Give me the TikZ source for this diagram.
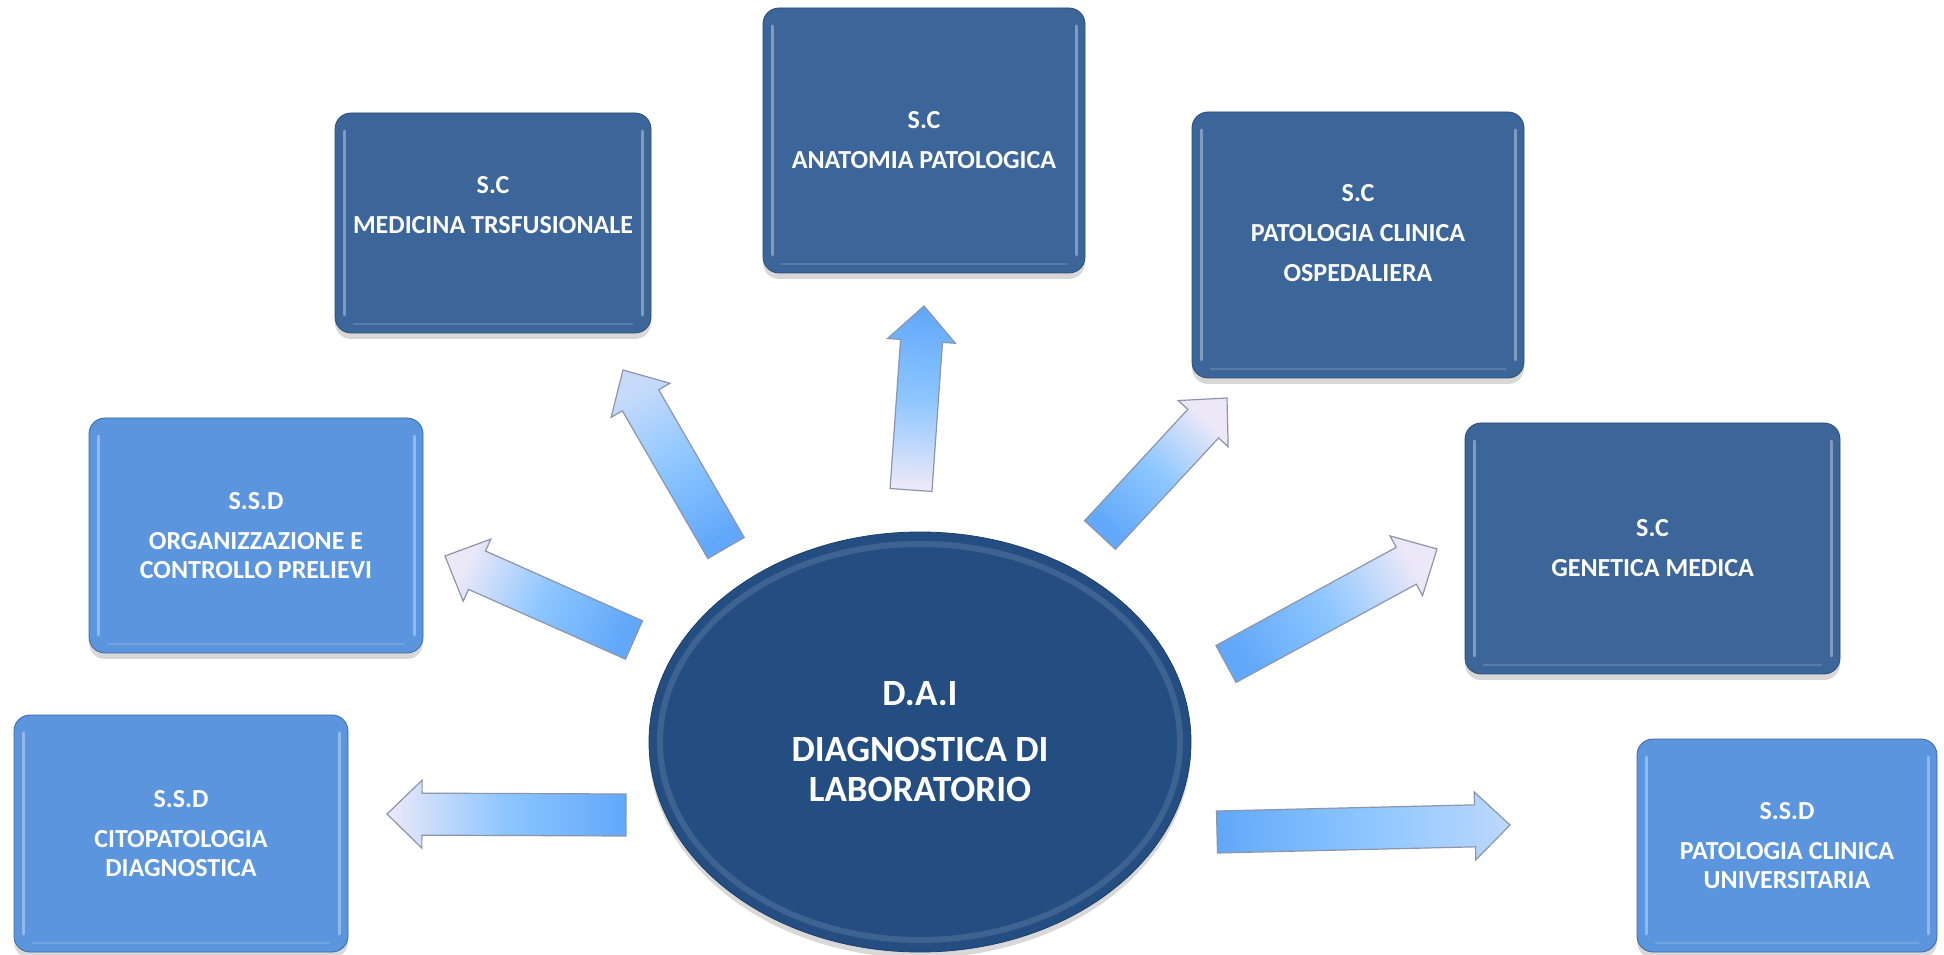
\documentclass[tikz,border=0pt]{standalone}
\usepackage{fontspec}
\setmainfont{Carlito}
\usepackage{tikz}
\usetikzlibrary{calc,shadows,shapes.geometric}

\definecolor{scblue}{RGB}{60,102,153}
\definecolor{ssdblue}{RGB}{90,149,221}
\definecolor{daiblue}{RGB}{36,78,130}
\definecolor{arrowtail}{RGB}{98,168,250}
\definecolor{arrowmid}{RGB}{140,198,255}
\definecolor{arrowtip}{RGB}{236,232,248}
\definecolor{arrowedge}{RGB}{140,150,170}

\tikzstyle{unit}=[rectangle,rounded corners=8pt,text=white,align=center,font=\bfseries\fontsize{13}{14.5}\selectfont,drop shadow={shadow xshift=0pt,shadow yshift=-3pt,opacity=0.3},path picture={
	\draw[white,opacity=0.35,line width=1.5pt,line cap=round] ([shift={(4.5pt,-9pt)}]path picture bounding box.north west) -- ([shift={(4.5pt,9pt)}]path picture bounding box.south west);
	\draw[white,opacity=0.35,line width=1.5pt,line cap=round] ([shift={(-4.5pt,-9pt)}]path picture bounding box.north east) -- ([shift={(-4.5pt,9pt)}]path picture bounding box.south east);
	\draw[white,opacity=0.15,line width=1pt] ([shift={(9pt,4.5pt)}]path picture bounding box.south west) -- ([shift={(-9pt,4.5pt)}]path picture bounding box.south east);}]
\tikzstyle{sc}=[unit,fill=scblue,draw=scblue!75!black]
\tikzstyle{ssd}=[unit,fill=ssdblue,draw=ssdblue!70!black]
\tikzstyle{dept}=[ellipse,inner sep=0pt,fill=daiblue,draw=daiblue!80!black,text=white,align=center,font=\bfseries\fontsize{18.5}{20}\selectfont,minimum width=271pt,minimum height=210pt,drop shadow={shadow xshift=0pt,shadow yshift=-3pt,opacity=0.3},path picture={\draw[white,opacity=0.12,line width=3pt] (path picture bounding box.center) ellipse [x radius=130pt,y radius=99pt];}]

\newcommand{\blockarrow}[4]{%
	\coordinate (#1-base) at ($(#2)!17.5pt!(#1)$);
	\path let \p1=($(#2)-(#1)$), \n1={atan2(\y1,\x1)-90} in
		[draw=arrowedge,line width=0.6pt,top color=#4,bottom color=#3,middle color=arrowmid,shading angle=\n1]
		($(#1)!10.5pt!90:(#2)$) -- ($(#1-base)!10.5pt!90:(#2)$) -- ($(#1-base)!17pt!90:(#2)$) -- (#2)
		-- ($(#1-base)!17pt!-90:(#2)$) -- ($(#1-base)!10.5pt!-90:(#2)$) -- ($(#1)!10.5pt!-90:(#2)$) -- cycle;
}

\begin{document}
\begin{tikzpicture}[x=0.5pt,y=0.5pt]
		\path[use as bounding box,fill=white] (0,0) rectangle (1944,954);

		\node[dept] (dai) at (920,212) {D.A.I\\[8pt]DIAGNOSTICA DI\\LABORATORIO};

		\node[sc,minimum width=158pt,minimum height=110pt] (medbox) at (493,731) {S.C\\[5.5pt]MEDICINA TRSFUSIONALE\\[3.5pt]\mbox{}};
		\node[sc,minimum width=161pt,minimum height=132.5pt] (anabox) at (924,813.5) {S.C\\[5.5pt]ANATOMIA PATOLOGICA};
		\node[sc,minimum width=166pt,minimum height=133pt] (ospbox) at (1358,709) {S.C\\[5.5pt]PATOLOGIA CLINICA\\[5.5pt]OSPEDALIERA\\[-2.5pt]\mbox{}};
		\node[ssd,minimum width=167pt,minimum height=117.5pt] (orgbox) at (256,418.5) {S.S.D\\[5.5pt]ORGANIZZAZIONE E\\CONTROLLO PRELIEVI};
		\node[ssd,minimum width=167pt,minimum height=118.5pt] (citbox) at (181,120.5) {S.S.D\\[5.5pt]CITOPATOLOGIA\\DIAGNOSTICA};
		\node[sc,minimum width=187.5pt,minimum height=125.5pt] (genbox) at (1652.5,405.5) {S.C\\[5.5pt]GENETICA MEDICA};
		\node[ssd,minimum width=150pt,minimum height=106.5pt] (unibox) at (1787,108.5) {S.S.D\\[5.5pt]PATOLOGIA CLINICA\\UNIVERSITARIA};

		\coordinate (cit-tail) at (626,139);
		\coordinate (cit-tip) at (387,140);
		\coordinate (org-tail) at (634,314);
		\coordinate (org-tip) at (445,398);
		\coordinate (med-tail) at (726,406);
		\coordinate (med-tip) at (623,584);
		\coordinate (ana-tail) at (911,464);
		\coordinate (ana-tip) at (924,648);
		\coordinate (osp-tail) at (1100,419);
		\coordinate (osp-tip) at (1227,556);
		\coordinate (gen-tail) at (1226,290);
		\coordinate (gen-tip) at (1437,405);
		\coordinate (uni-tail) at (1217,122);
		\coordinate (uni-tip) at (1510,129);

		\blockarrow{cit-tail}{cit-tip}{arrowtail}{arrowtip}
		\blockarrow{org-tail}{org-tip}{arrowtail}{arrowtip}
		\blockarrow{med-tail}{med-tip}{arrowtail}{arrowtip!60!arrowmid}
		\blockarrow{ana-tail}{ana-tip}{arrowtip}{arrowtail}
		\blockarrow{osp-tail}{osp-tip}{arrowtail}{arrowtip}
		\blockarrow{gen-tail}{gen-tip}{arrowtail}{arrowtip}
		\blockarrow{uni-tail}{uni-tip}{arrowtail}{arrowmid!50!arrowtip}
\end{tikzpicture}
\end{document}
